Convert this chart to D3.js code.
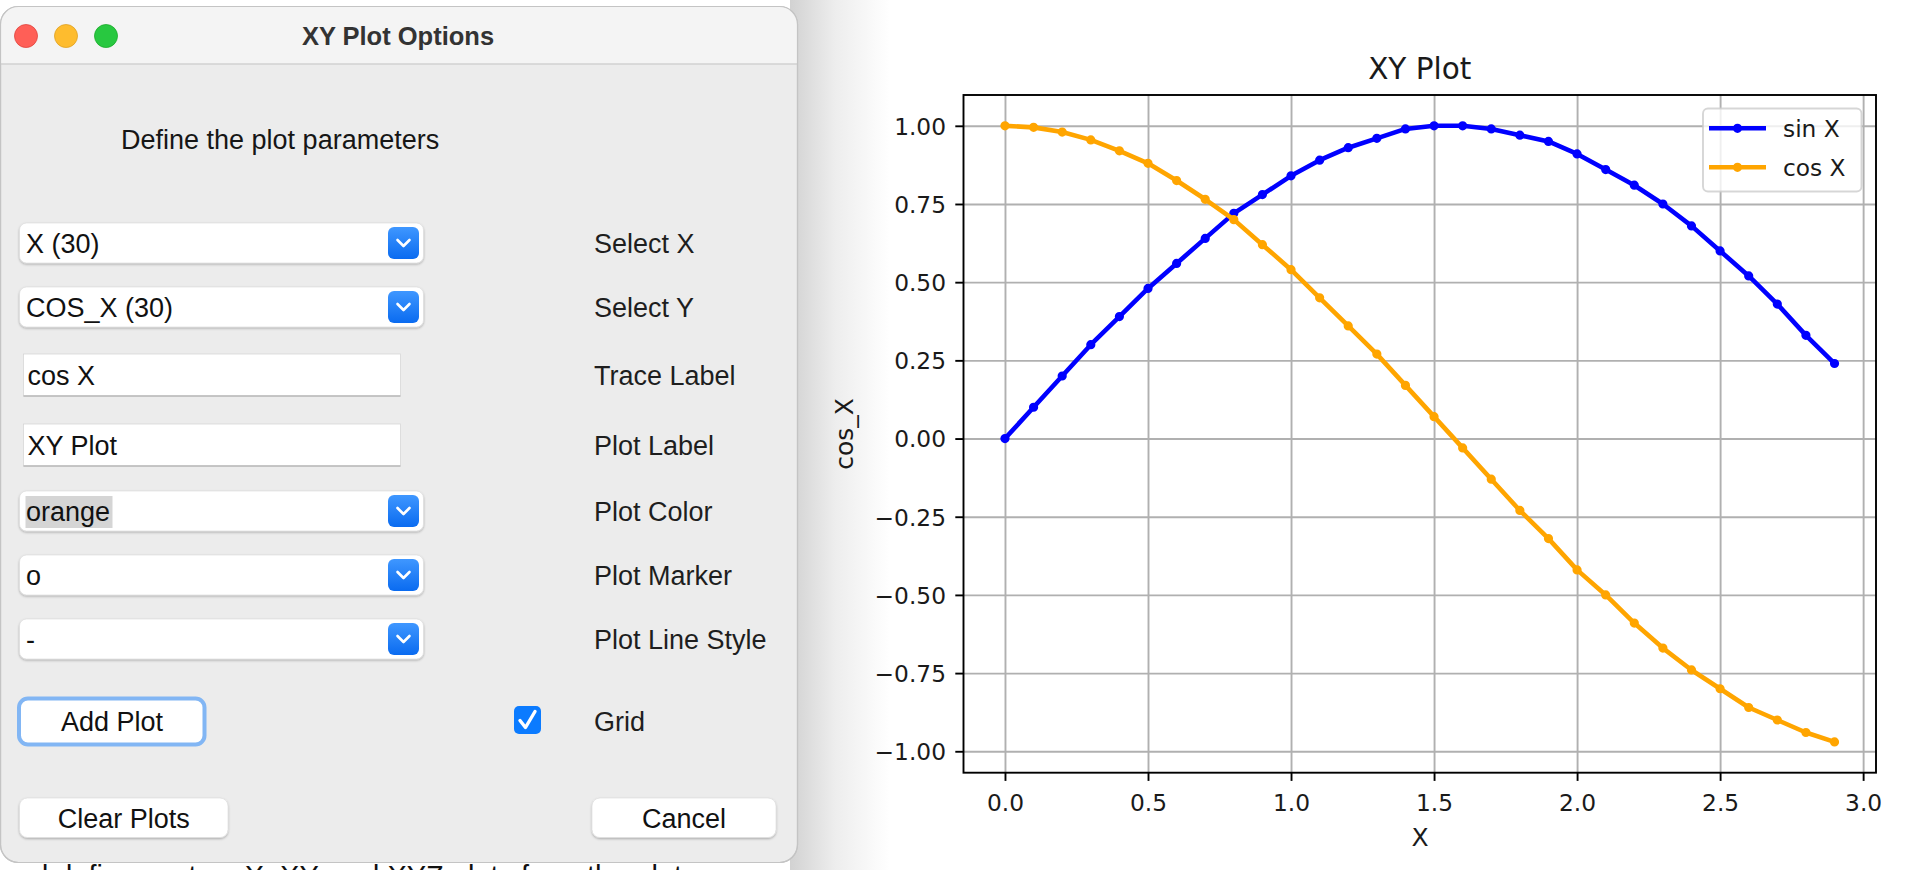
<!DOCTYPE html>
<html><head><meta charset="utf-8">
<script src="https://cdn.jsdelivr.net/npm/d3@7"></script>
<style>html,body{margin:0;padding:0;background:#fff;overflow:hidden}</style>
</head><body>
<svg id="c" width="1926" height="870" xmlns="http://www.w3.org/2000/svg"></svg>
<script>
// ---------------- DATA ----------------
const xValues   = [0.0,0.1,0.2,0.3,0.4,0.5,0.6,0.7,0.8,0.9,1.0,1.1,1.2,1.3,1.4,1.5,1.6,1.7,1.8,1.9,2.0,2.1,2.2,2.3,2.4,2.5,2.6,2.7,2.8,2.9];
const sinValues = [0.00,0.10,0.20,0.30,0.39,0.48,0.56,0.64,0.72,0.78,0.84,0.89,0.93,0.96,0.99,1.00,1.00,0.99,0.97,0.95,0.91,0.86,0.81,0.75,0.68,0.60,0.52,0.43,0.33,0.24];
const cosValues = [1.00,0.995,0.98,0.955,0.92,0.88,0.825,0.765,0.70,0.62,0.54,0.45,0.36,0.27,0.17,0.07,-0.03,-0.13,-0.23,-0.32,-0.42,-0.50,-0.59,-0.67,-0.74,-0.80,-0.86,-0.90,-0.94,-0.97];
const seriesNames = ["sin X","cos X"];
const xTicks = [0,0.5,1,1.5,2,2.5,3];
const xTickLabels = ["0.0","0.5","1.0","1.5","2.0","2.5","3.0"];
const yTicks = [-1,-0.75,-0.5,-0.25,0,0.25,0.5,0.75,1];
const yTickLabels = ["\u22121.00","\u22120.75","\u22120.50","\u22120.25","0.00","0.25","0.50","0.75","1.00"];
const chartTitle = "XY Plot";
const xAxisLabel = "X";
const yAxisLabel = "cos_X";
const dialogTitle = "XY Plot Options";
const dialogHeading = "Define the plot parameters";
const fieldKinds  = ["combo","combo","text","text","combo","combo","combo"];
const fieldValues = ["X (30)","COS_X (30)","cos X","XY Plot","orange","o","-"];
const fieldLabels = ["Select X","Select Y","Trace Label","Plot Label","Plot Color","Plot Marker","Plot Line Style"];
const buttonLabels = ["Add Plot","Clear Plots","Cancel"];
const gridLabel = "Grid";
const pageText = "and define custom X, XY, and XYZ plots from the plot";

// ---------------- STYLE / LAYOUT ----------------
const seriesColors = ["#0000ff","#ffa500"];
const uiFont = "'Liberation Sans', Arial, Helvetica, sans-serif";
const mplFont = "'DejaVu Sans', sans-serif";
const rowCenters = [243,307,375,445,511,575,639];

const svg = d3.select("#c");
const defs = svg.append("defs");
const sg = defs.append("linearGradient").attr("id","shadowG").attr("x1",0).attr("x2",1).attr("y1",0).attr("y2",0);
sg.append("stop").attr("offset",0).attr("stop-color","#d2d2d2");
sg.append("stop").attr("offset",0.45).attr("stop-color","#ededed");
sg.append("stop").attr("offset",1).attr("stop-color","#ffffff");
const bg = defs.append("linearGradient").attr("id","blueG").attr("x1",0).attr("x2",0).attr("y1",0).attr("y2",1);
bg.append("stop").attr("offset",0).attr("stop-color","#3f97ff");
bg.append("stop").attr("offset",1).attr("stop-color","#0a6bf0");
const f = defs.append("filter").attr("id","ds").attr("x","-10%").attr("y","-20%").attr("width","120%").attr("height","160%");
f.append("feDropShadow").attr("dx",0).attr("dy",1.2).attr("stdDeviation",0.9).attr("flood-color","#000").attr("flood-opacity",0.28);
defs.append("clipPath").attr("id","winClip").append("rect")
  .attr("x",0.5).attr("y",6.5).attr("width",797).attr("height",856).attr("rx",18);

svg.append("rect").attr("width",1926).attr("height",870).attr("fill","#ffffff");
// window shadow on page
svg.append("rect").attr("x",790).attr("y",0).attr("width",100).attr("height",870).attr("fill","url(#shadowG)");

// page text behind the dialog (partly hidden, as in the screenshot)
svg.append("text").attr("x",0).attr("y",886).attr("font-family",uiFont).attr("font-size",30)
  .attr("fill","#111").attr("textLength",682).attr("lengthAdjust","spacingAndGlyphs").text(pageText);

// ---------------- DIALOG ----------------
const dlg = svg.append("g");
dlg.append("rect").attr("x",0.5).attr("y",6.5).attr("width",797).attr("height",856).attr("rx",18)
  .attr("fill","#ececec").attr("stroke","#c4c4c4").attr("stroke-width",1.2);
const inner = dlg.append("g").attr("clip-path","url(#winClip)");
inner.append("rect").attr("x",0).attr("y",6).attr("width",800).attr("height",58).attr("fill","#f4f4f4");
inner.append("line").attr("x1",0).attr("x2",800).attr("y1",64).attr("y2",64).attr("stroke","#d2d2d2").attr("stroke-width",1.5);
dlg.append("rect").attr("x",0.5).attr("y",6.5).attr("width",797).attr("height",856).attr("rx",18)
  .attr("fill","none").attr("stroke","#c4c4c4").attr("stroke-width",1.2);

[["#ff5f57","#e0443e"],["#febc2e","#dea123"],["#28c840","#1aab29"]].forEach((c,i)=>{
  dlg.append("circle").attr("cx",[26,66,106][i]).attr("cy",36).attr("r",11.5)
    .attr("fill",c[0]).attr("stroke",c[1]).attr("stroke-width",0.8);
});
dlg.append("text").attr("x",398).attr("y",44.5).attr("text-anchor","middle")
  .attr("font-family",uiFont).attr("font-weight","bold").attr("font-size",25.5).attr("fill","#333").text(dialogTitle);
dlg.append("text").attr("x",121).attr("y",148.5).attr("font-family",uiFont).attr("font-size",27)
  .attr("fill","#161616").text(dialogHeading);

fieldKinds.forEach((k,i)=>{
  const cy = rowCenters[i];
  if (k === "combo") {
    dlg.append("rect").attr("x",19.5).attr("y",cy-20).attr("width",404).attr("height",40).attr("rx",7)
      .attr("fill","#fff").attr("stroke","#d9d9d9").attr("stroke-width",0.6).attr("filter","url(#ds)");
    dlg.append("rect").attr("x",388).attr("y",cy-16).attr("width",31).attr("height",32).attr("rx",6)
      .attr("fill","url(#blueG)");
    dlg.append("path").attr("d",`M${397.5},${cy-3} L${403.5},${cy+3} L${409.5},${cy-3}`)
      .attr("fill","none").attr("stroke","#fff").attr("stroke-width",2.6).attr("stroke-linecap","round").attr("stroke-linejoin","round");
  } else {
    dlg.append("rect").attr("x",23.5).attr("y",cy-21).attr("width",377).attr("height",42)
      .attr("fill","#fff").attr("stroke","#d6d6d6").attr("stroke-width",0.8);
    dlg.append("line").attr("x1",23.5).attr("x2",400.5).attr("y1",cy+21).attr("y2",cy+21)
      .attr("stroke","#b9b9b9").attr("stroke-width",1.4);
  }
  if (fieldValues[i] === "orange") {
    dlg.append("rect").attr("x",25.5).attr("y",cy-15).attr("width",87).attr("height",32).attr("fill","#d5d5d5");
  }
  dlg.append("text").attr("x", k === "combo" ? 26 : 27.5).attr("y",cy+9.7)
    .attr("font-family",uiFont).attr("font-size",27).attr("fill","#111").text(fieldValues[i]);
  dlg.append("text").attr("x",594).attr("y",cy+9.7)
    .attr("font-family",uiFont).attr("font-size",27).attr("fill","#1e1e1e").text(fieldLabels[i]);
});

// Add Plot button with focus ring
dlg.append("rect").attr("x",19).attr("y",698.5).attr("width",185.5).attr("height",46).attr("rx",9)
  .attr("fill","#fff").attr("stroke","#82b6f4").attr("stroke-width",4);
dlg.append("text").attr("x",112).attr("y",730.5).attr("text-anchor","middle")
  .attr("font-family",uiFont).attr("font-size",27).attr("fill","#111").text(buttonLabels[0]);
// checkbox
dlg.append("rect").attr("x",514).attr("y",706).attr("width",27).attr("height",28).attr("rx",5).attr("fill","#0b7bff");
dlg.append("path").attr("d","M520,720.5 L525.5,727.5 L535,711.5").attr("fill","none")
  .attr("stroke","#fff").attr("stroke-width",3.4).attr("stroke-linecap","round").attr("stroke-linejoin","round");
dlg.append("text").attr("x",594).attr("y",730.5).attr("font-family",uiFont).attr("font-size",27).attr("fill","#1e1e1e").text(gridLabel);
// bottom buttons
[[19.5,208.5,buttonLabels[1]],[592,184,buttonLabels[2]]].forEach(b=>{
  dlg.append("rect").attr("x",b[0]).attr("y",798).attr("width",b[1]).attr("height",39.5).attr("rx",8)
    .attr("fill","#fff").attr("stroke","#dadada").attr("stroke-width",0.6).attr("filter","url(#ds)");
  dlg.append("text").attr("x",b[0]+b[1]/2).attr("y",827.5).attr("text-anchor","middle")
    .attr("font-family",uiFont).attr("font-size",27).attr("fill","#111").text(b[2]);
});

// ---------------- CHART ----------------
const L = 963.5, R = 1876, T = 95, B = 772.7;
const xExt = d3.extent(xValues);
const yExt = d3.extent(sinValues.concat(cosValues));
const xPad = (xExt[1]-xExt[0])*0.05, yPad = (yExt[1]-yExt[0])*0.05;
const x = d3.scaleLinear().domain([xExt[0]-xPad, xExt[1]+xPad]).range([L, R]);
const y = d3.scaleLinear().domain([yExt[0]-yPad, yExt[1]+yPad]).range([B, T]);

const ch = svg.append("g");
// grid
ch.append("g").attr("transform",`translate(0,${B})`)
  .call(d3.axisBottom(x).tickValues(xTicks).tickSize(-(B-T)).tickFormat(""))
  .call(g=>{g.select(".domain").remove(); g.selectAll("line").attr("stroke","#b0b0b0").attr("stroke-width",1.9);});
ch.append("g").attr("transform",`translate(${L},0)`)
  .call(d3.axisLeft(y).tickValues(yTicks).tickSize(-(R-L)).tickFormat(""))
  .call(g=>{g.select(".domain").remove(); g.selectAll("line").attr("stroke","#b0b0b0").attr("stroke-width",1.9);});

// series
const seriesData = [sinValues, cosValues];
const line = d3.line().x((d,i)=>x(xValues[i])).y(d=>y(d));
seriesData.forEach((vals,s)=>{
  ch.append("path").datum(vals).attr("d",line).attr("fill","none")
    .attr("stroke",seriesColors[s]).attr("stroke-width",4.6).attr("stroke-linejoin","round").attr("stroke-linecap","square");
  ch.append("g").selectAll("circle").data(vals).join("circle")
    .attr("cx",(d,i)=>x(xValues[i])).attr("cy",d=>y(d)).attr("r",3.5)
    .attr("fill",seriesColors[s]).attr("stroke",seriesColors[s]).attr("stroke-width",2.2);
});

// spines
ch.append("rect").attr("x",L).attr("y",T).attr("width",R-L).attr("height",B-T)
  .attr("fill","none").attr("stroke","#000").attr("stroke-width",1.9);

// axes
const ax = ch.append("g").attr("transform",`translate(0,${B})`)
  .call(d3.axisBottom(x).tickValues(xTicks).tickSize(8.2).tickSizeOuter(0).tickFormat((d,i)=>xTickLabels[i]));
ax.select(".domain").remove();
ax.selectAll("line").attr("stroke","#000").attr("stroke-width",1.9);
ax.selectAll("text").attr("y",38.8).attr("dy",null).attr("font-family",mplFont).attr("font-size",23.3).attr("fill","#1a1a1a");
const ay = ch.append("g").attr("transform",`translate(${L},0)`)
  .call(d3.axisLeft(y).tickValues(yTicks).tickSize(8.2).tickSizeOuter(0).tickFormat((d,i)=>yTickLabels[i]));
ay.select(".domain").remove();
ay.selectAll("line").attr("stroke","#000").attr("stroke-width",1.9);
ay.selectAll("text").attr("x",-17.5).attr("dy","0.36em").attr("font-family",mplFont).attr("font-size",23.3).attr("fill","#1a1a1a");

// title & labels
ch.append("text").attr("x",(L+R)/2).attr("y",79).attr("text-anchor","middle")
  .attr("font-family",mplFont).attr("font-size",29.5).attr("fill","#1a1a1a").text(chartTitle);
ch.append("text").attr("x",1420).attr("y",846).attr("text-anchor","middle")
  .attr("font-family",mplFont).attr("font-size",25).attr("fill","#1a1a1a").text(xAxisLabel);
ch.append("text").attr("transform",`translate(853,${(T+B)/2}) rotate(-90)`).attr("text-anchor","middle")
  .attr("font-family",mplFont).attr("font-size",25).attr("fill","#1a1a1a").text(yAxisLabel);

// legend
const lg = ch.append("g");
lg.append("rect").attr("x",1703).attr("y",108.5).attr("width",158.5).attr("height",83).attr("rx",5)
  .attr("fill","#fff").attr("fill-opacity",0.8).attr("stroke","#cccccc").attr("stroke-opacity",0.8).attr("stroke-width",1.9);
const legY = [128.3, 167.3];
seriesNames.forEach((n,s)=>{
  lg.append("line").attr("x1",1709).attr("x2",1766).attr("y1",legY[s]).attr("y2",legY[s])
    .attr("stroke",seriesColors[s]).attr("stroke-width",4.6);
  lg.append("circle").attr("cx",1737.5).attr("cy",legY[s]).attr("r",3.5)
    .attr("fill",seriesColors[s]).attr("stroke",seriesColors[s]).attr("stroke-width",2.2);
  lg.append("text").attr("x",1783).attr("y",legY[s]+8.5).attr("font-family",mplFont).attr("font-size",23.3)
    .attr("fill","#1a1a1a").text(n);
});
</script>
</body></html>
